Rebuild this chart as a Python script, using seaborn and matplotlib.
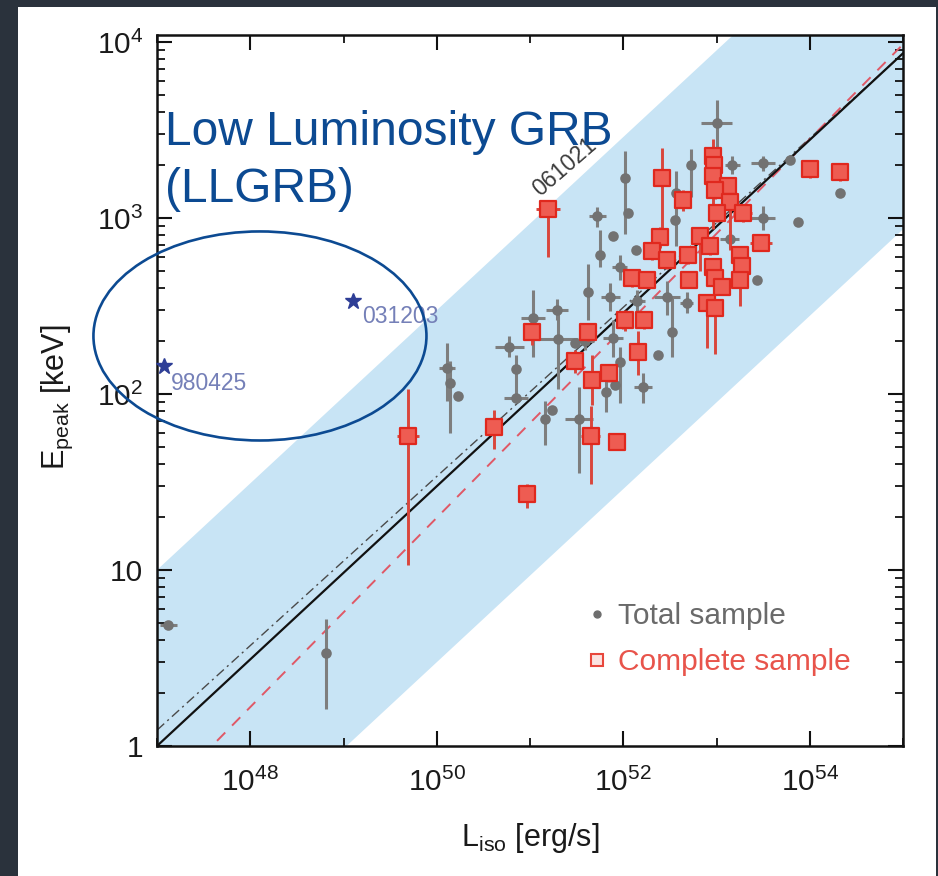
import numpy as np
import pandas as pd
import matplotlib
matplotlib.use("Agg")
import matplotlib.pyplot as plt
from matplotlib.patches import Ellipse, Rectangle
from matplotlib.lines import Line2D
from matplotlib.ticker import FixedLocator, FixedFormatter, NullFormatter, LogLocator
import seaborn as sns

sns.set_style("ticks")
plt.rcParams["font.family"] = ["Liberation Sans", "DejaVu Sans"]
plt.rcParams["mathtext.fontset"] = "custom"
plt.rcParams["mathtext.rm"] = "Liberation Sans"
plt.rcParams["mathtext.it"] = "Liberation Sans:italic"
plt.rcParams["mathtext.bf"] = "Liberation Sans:bold"
plt.rcParams["mathtext.default"] = "regular"

# ---------------------------------------------------------------------------
# Total sample: log10 L_iso [erg/s], log10 E_peak [keV], errors in dex
tot_logL = [47.12, 48.81, 50.11, 50.14, 50.23, 50.78, 50.85, 50.85, 51.16, 51.24,
            51.53, 51.03, 51.29, 51.30, 51.62, 51.72, 52.02, 52.05, 51.89, 51.75,
            51.96, 52.14, 52.47, 52.37, 52.52, 52.21, 51.82, 52.68, 51.89, 53.00,
            52.73, 53.50, 53.79, 53.87, 54.32, 53.50, 52.57, 53.43, 51.59, 51.96,
            51.91, 53.17, 53.14, 52.15, 51.86, 51.48, 52.55]
tot_logE = [0.69, 0.53, 2.15, 2.06, 1.99, 2.27, 2.14, 1.98, 1.86, 1.91,
            1.86, 2.43, 2.48, 2.31, 2.58, 3.01, 3.23, 3.03, 2.90, 2.79,
            2.72, 2.82, 2.55, 2.22, 2.35, 2.04, 2.01, 2.52, 2.32, 3.54,
            3.30, 3.31, 3.33, 2.98, 3.14, 3.00, 3.14, 2.65, 2.30, 2.18,
            2.05, 3.30, 2.88, 2.53, 2.55, 2.29, 2.99]
tot_elo = [0.00, 0.32, 0.19, 0.28, 0.00, 0.06, 0.15, 0.00, 0.15, 0.00,
           0.31, 0.22, 0.06, 0.28, 0.16, 0.06, 0.32, 0.00, 0.00, 0.07,
           0.07, 0.00, 0.10, 0.00, 0.14, 0.09, 0.11, 0.06, 0.11, 0.15,
           0.18, 0.04, 0.00, 0.00, 0.00, 0.07, 0.30, 0.00, 0.05, 0.23,
           0.00, 0.05, 0.05, 0.06, 0.08, 0.00, 0.00]
tot_ehi = [0.00, 0.19, 0.14, 0.13, 0.00, 0.06, 0.08, 0.00, 0.10, 0.00,
           0.18, 0.16, 0.06, 0.19, 0.16, 0.05, 0.15, 0.00, 0.00, 0.14,
           0.07, 0.00, 0.09, 0.00, 0.20, 0.08, 0.14, 0.06, 0.10, 0.13,
           0.09, 0.04, 0.00, 0.00, 0.00, 0.07, 0.13, 0.00, 0.05, 0.09,
           0.00, 0.05, 0.05, 0.06, 0.08, 0.00, 0.00]
tot_lerr = [0.09, 0.00, 0.09, 0.00, 0.00, 0.16, 0.00, 0.13, 0.00, 0.00,
            0.15, 0.13, 0.12, 0.21, 0.00, 0.09, 0.00, 0.00, 0.00, 0.00,
            0.08, 0.00, 0.14, 0.00, 0.00, 0.10, 0.00, 0.07, 0.11, 0.17,
            0.00, 0.13, 0.00, 0.00, 0.00, 0.13, 0.00, 0.00, 0.10, 0.00,
            0.00, 0.08, 0.10, 0.08, 0.10, 0.00, 0.00]

# Complete sample
com_logL = [51.19, 49.69, 50.61, 50.97, 51.02, 51.48, 51.62, 51.66, 51.65, 51.85,
            51.93, 52.16, 52.02, 52.22, 52.09, 52.26, 52.39, 52.31, 52.64, 52.42,
            52.96, 52.97, 52.96, 53.12, 52.98, 53.14, 53.28, 53.01, 52.82, 52.69,
            52.93, 52.47, 52.90, 52.98, 52.96, 52.98, 53.06, 53.25, 53.27, 53.25,
            53.48, 52.70, 54.00, 54.32]
com_logE = [3.05, 1.76, 1.81, 1.43, 2.35, 2.19, 2.35, 2.08, 1.76, 2.12,
            1.73, 2.24, 2.42, 2.42, 2.66, 2.65, 2.89, 2.81, 3.10, 3.23,
            3.35, 3.30, 3.24, 3.18, 3.16, 3.09, 3.03, 3.03, 2.90, 2.79,
            2.84, 2.76, 2.52, 2.49, 2.72, 2.66, 2.61, 2.79, 2.73, 2.65,
            2.86, 2.65, 3.28, 3.26]
com_elo = [0.27, 0.73, 0.12, 0.08, 0.07, 0.07, 0.05, 0.14, 0.27, 0.05,
           0.03, 0.13, 0.06, 0.05, 0.05, 0.05, 0.06, 0.05, 0.06, 0.35,
           0.05, 0.05, 0.30, 0.05, 0.05, 0.27, 0.05, 0.05, 0.20, 0.05,
           0.05, 0.05, 0.26, 0.26, 0.05, 0.05, 0.05, 0.05, 0.05, 0.15,
           0.04, 0.05, 0.05, 0.05]
com_ehi = [0.05, 0.27, 0.10, 0.06, 0.05, 0.06, 0.04, 0.14, 0.17, 0.04,
           0.03, 0.12, 0.06, 0.05, 0.05, 0.05, 0.06, 0.05, 0.06, 0.17,
           0.10, 0.05, 0.05, 0.05, 0.05, 0.05, 0.05, 0.05, 0.05, 0.05,
           0.05, 0.05, 0.04, 0.05, 0.05, 0.05, 0.05, 0.05, 0.05, 0.05,
           0.04, 0.05, 0.05, 0.05]
com_lerr = [0.13, 0.12, 0.09, 0.05, 0.05, 0.05, 0.05, 0.05, 0.10, 0.05,
            0.04, 0.06, 0.06, 0.06, 0.06, 0.06, 0.05, 0.05, 0.06, 0.05,
            0.05, 0.05, 0.05, 0.05, 0.05, 0.05, 0.10, 0.05, 0.05, 0.05,
            0.05, 0.05, 0.05, 0.05, 0.05, 0.05, 0.05, 0.05, 0.05, 0.05,
            0.12, 0.05, 0.09, 0.09]

# Low-luminosity bursts
ll_names = ["980425", "031203"]
ll_logL = [47.075, 49.10]
ll_logE = [2.16, 2.53]

# Relations: log E = norm + slope * (log L - 47)
fit_total = (0.492, 0.00)
fit_total_alt = (0.4805, 0.09)
fit_complete = (0.538, -0.317)
band_halfwidth = 1.0   # dex

# ---------------------------------------------------------------------------
GRAY = "#727272"
RED_EDGE = "#e0281e"
RED_FACE = "#ee5c52"
RED_BAR = "#d9463c"
BAND = "#c8e4f5"
NAVY = "#0c4a92"


def to_lin(logv):
    return 10.0 ** np.asarray(logv, dtype=float)


def asym(logv, lo, hi):
    v = to_lin(logv)
    return np.vstack([v - to_lin(np.asarray(logv) - np.asarray(lo)),
                      to_lin(np.asarray(logv) + np.asarray(hi)) - v])


def relation(L, slope, norm):
    return 10.0 ** (norm + slope * (np.log10(L) - 47.0))


W, H = 938, 876
fig = plt.figure(figsize=(W / 100, H / 100), dpi=100, facecolor="#2a323c")
fig.add_artist(Rectangle((18 / W, 0), 918 / W, 869 / H, transform=fig.transFigure,
                         facecolor="white", edgecolor="none", zorder=-10))
ax = fig.add_axes([157 / W, 130 / H, 746 / W, 711 / H])
ax.set_xscale("log")
ax.set_yscale("log")
ax.set_xlim(1e47, 1e55)
ax.set_ylim(1, 10 ** 4.04)

L_grid = np.logspace(47, 55, 300)
center = relation(L_grid, *fit_total)
ax.fill_between(L_grid, center / 10 ** band_halfwidth, center * 10 ** band_halfwidth,
                color=BAND, lw=0, zorder=0)

lines = pd.DataFrame({
    "L": L_grid,
    "total": center,
    "total_alt": relation(L_grid, *fit_total_alt),
    "complete": relation(L_grid, *fit_complete),
})
sns.lineplot(data=lines, x="L", y="total_alt", ax=ax, color="#4a4a4a", lw=1.0,
             linestyle=(0, (7, 3, 1.5, 3)), estimator=None, sort=False, zorder=2)
sns.lineplot(data=lines, x="L", y="complete", ax=ax, color="#e05866", lw=1.4,
             linestyle=(0, (6, 5)), estimator=None, sort=False, zorder=2)
sns.lineplot(data=lines, x="L", y="total", ax=ax, color="#111111", lw=1.6,
             estimator=None, sort=False, zorder=2)

# total sample
tL, tE = to_lin(tot_logL), to_lin(tot_logE)
ax.errorbar(tL, tE, xerr=asym(tot_logL, tot_lerr, tot_lerr),
            yerr=asym(tot_logE, tot_elo, tot_ehi), fmt="none",
            ecolor="#7e7e7e", elinewidth=2.2, capsize=0, zorder=3)
sns.scatterplot(x=tL, y=tE, ax=ax, marker="o", s=58, color=GRAY,
                edgecolor=GRAY, linewidth=0, zorder=4)

# complete sample
cL, cE = to_lin(com_logL), to_lin(com_logE)
ax.errorbar(cL, cE, xerr=asym(com_logL, com_lerr, com_lerr),
            yerr=asym(com_logE, com_elo, com_ehi), fmt="none",
            ecolor=RED_BAR, elinewidth=2.1, capsize=0, zorder=5)
sns.scatterplot(x=cL, y=cE, ax=ax, marker="s", s=120, color=RED_FACE,
                edgecolor=RED_EDGE, linewidth=1.6, zorder=6)

# low-luminosity events
llL, llE = to_lin(ll_logL), to_lin(ll_logE)
ax.plot(llL, llE, ls="none", marker="*", ms=12, color="#2e3e96", clip_on=False, zorder=7)
ax.text(10 ** 47.15, 10 ** 2.06, ll_names[0], color="#7580b8", fontsize=16.5,
        ha="left", va="center", zorder=7)
ax.text(10 ** 49.20, 10 ** 2.443, ll_names[1], color="#7580b8", fontsize=16.5,
        ha="left", va="center", zorder=7)
ax.text(10 ** 51.105, 10 ** 3.12, "061021", color="#3c3c3c", fontsize=16.5,
        rotation=41, rotation_mode="anchor", ha="left", va="baseline", zorder=7)

# axes styling
for s in ax.spines.values():
    s.set_linewidth(1.8)
    s.set_color("#111111")
ax.xaxis.set_major_locator(FixedLocator([1e48, 1e50, 1e52, 1e54]))
ax.xaxis.set_major_formatter(FixedFormatter([r"$10^{48}$", r"$10^{50}$", r"$10^{52}$", r"$10^{54}$"]))
ax.xaxis.set_minor_locator(FixedLocator([1e47, 1e49, 1e51, 1e53, 1e55]))
ax.xaxis.set_minor_formatter(NullFormatter())
ax.yaxis.set_major_locator(FixedLocator([1, 10, 100, 1000, 10000]))
ax.yaxis.set_major_formatter(FixedFormatter(["1", "10", r"$10^2$", r"$10^3$", r"$10^4$"]))
ax.yaxis.set_minor_locator(LogLocator(base=10, subs=np.arange(2, 10), numticks=20))
ax.yaxis.set_minor_formatter(NullFormatter())
ax.tick_params(which="both", direction="in", top=True, right=True, colors="#111111")
ax.tick_params(which="major", length=11, width=1.5, labelsize=21.5, labelcolor="#1a1a1a")
ax.tick_params(which="minor", length=5.5, width=1.3)
ax.tick_params(axis="x", which="major", pad=16)
ax.tick_params(axis="y", which="major", pad=10)

ax.set_xlabel(r"L$_{iso}$ [erg/s]", fontsize=22, color="#1a1a1a")
ax.set_ylabel(r"E$_{peak}$ [keV]", fontsize=22, color="#1a1a1a")
ax.xaxis.set_label_coords(0.5, -0.105)
ax.yaxis.set_label_coords(-0.11, 0.491)

# legend
handles = [
    Line2D([], [], ls="none", marker="o", ms=5, color="#6e6e6e"),
    Line2D([], [], ls="none", marker="s", ms=8, mfc="#fbe3e1", mec="#e8473c", mew=1.5),
]
leg = ax.legend(handles, ["Total sample", "Complete sample"], loc="center left",
                bbox_to_anchor=(0.578, 0.150), frameon=False, fontsize=21.5,
                handlelength=0.6, handletextpad=0.4, labelspacing=0.6,
                borderpad=0, borderaxespad=0)
leg.get_texts()[0].set_color("#6a6a6a")
leg.get_texts()[1].set_color("#e8544b")

# LLGRB annotation
ax.text(0.0107, 0.845, "Low Luminosity GRB", transform=ax.transAxes, fontsize=34.5,
        color=NAVY, ha="left", va="baseline", zorder=8)
ax.text(0.0107, 0.765, "(LLGRB)", transform=ax.transAxes, fontsize=34.5,
        color=NAVY, ha="left", va="baseline", zorder=8)
ax.add_patch(Ellipse((0.138, 0.5767), 0.4464, 0.294, transform=ax.transAxes,
                     fill=False, edgecolor=NAVY, lw=1.9, clip_on=False, zorder=8))

fig.savefig("out.png", dpi=100, facecolor=fig.get_facecolor())
